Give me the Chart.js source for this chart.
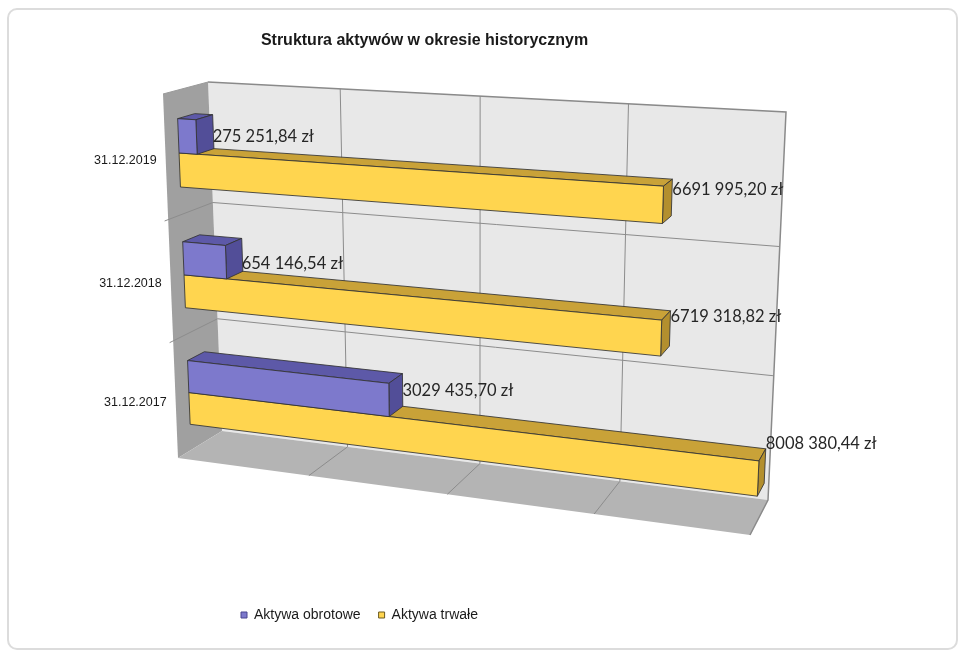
<!DOCTYPE html>
<html>
<head>
<meta charset="utf-8">
<script src="https://cdn.jsdelivr.net/npm/chart.js@4.4.1/dist/chart.umd.min.js"></script>
<style>
  html, body { margin: 0; padding: 0; background: #ffffff; }
  #wrap { position: relative; width: 965px; height: 658px; }
  #frame { position: absolute; left: 7px; top: 8px; width: 951px; height: 642px;
           border: 2px solid #dcdcdc; border-radius: 10px; box-sizing: border-box; pointer-events: none; }
  canvas { position: absolute; left: 0; top: 0; }
</style>
</head>
<body>
<div id="wrap">
  <canvas id="chart" width="965" height="658"></canvas>
  <div id="frame"></div>
</div>
<script>
// ---- data ----
const categories = ['31.12.2019', '31.12.2018', '31.12.2017'];
const seriesNames = ['Aktywa obrotowe', 'Aktywa trwałe'];
const currentAssets = [275251.84, 654146.54, 3029435.70];
const fixedAssets = [6691995.20, 6719318.82, 8008380.44];
const axisMax = 8000000;
const axisStep = 2000000;
const chartTitle = 'Struktura aktywów w okresie historycznym';
const currency = 'zł';

// ---- styling ----
const FACE = {
  purple: { front: '#7d79cc', top: '#5d59a8', side: '#524e98' },
  yellow: { front: '#ffd54f', top: '#c9a238', side: '#b38f2e' }
};
const EDGE = 'rgba(50,50,50,0.85)';

function formatPLN(v) {
  const parts = v.toFixed(2).split('.');
  const i = parts[0];
  const head = i.slice(0, -3), tail = i.slice(-3);
  return (head ? head + ' ' : '') + tail + ',' + parts[1] + ' ' + currency;
}

// Projective map of the unit square onto a quadrilateral (corners in order
// (0,0), (1,0), (1,1), (0,1)).
function quadMap(p0, p1, p2, p3) {
  const dx1 = p1[0] - p2[0], dx2 = p3[0] - p2[0], dx3 = p0[0] - p1[0] + p2[0] - p3[0];
  const dy1 = p1[1] - p2[1], dy2 = p3[1] - p2[1], dy3 = p0[1] - p1[1] + p2[1] - p3[1];
  const den = dx1 * dy2 - dx2 * dy1;
  const g = (dx3 * dy2 - dx2 * dy3) / den;
  const h = (dx1 * dy3 - dx3 * dy1) / den;
  const a = p1[0] - p0[0] + g * p1[0], b = p3[0] - p0[0] + h * p3[0], c = p0[0];
  const d = p1[1] - p0[1] + g * p1[1], e = p3[1] - p0[1] + h * p3[1], f = p0[1];
  return (u, v) => {
    const q = g * u + h * v + 1;
    return [(a * u + b * v + c) / q, (d * u + e * v + f) / q];
  };
}

// Front and back planes of the plot box.
const FRONT = quadMap([163, 94], [768, 128], [750, 535], [178, 458]);
const BACK = quadMap([208, 82], [786, 112], [768, 500], [222, 431]);
function P(u, v, w) {
  const a = FRONT(u, v), b = BACK(u, v);
  return [a[0] + (b[0] - a[0]) * w, a[1] + (b[1] - a[1]) * w];
}

// Bars sit between these depths.
const BAR_W0 = 0.30, BAR_W1 = 0.68;
// Bar thickness inside a category band, relative to the flat layout.
const BAND_SQUEEZE = 0.66, BAND_SHIFT = 0.0;
// Vertical frame used for the value labels.
const LABEL_TOP = 100, LABEL_BOTTOM = 481;

function poly(ctx, pts, fill, stroke, lw) {
  ctx.beginPath();
  ctx.moveTo(pts[0][0], pts[0][1]);
  for (let k = 1; k < pts.length; k++) ctx.lineTo(pts[k][0], pts[k][1]);
  ctx.closePath();
  if (fill) { ctx.fillStyle = fill; ctx.fill(); }
  if (stroke) { ctx.strokeStyle = stroke; ctx.lineWidth = lw || 1; ctx.stroke(); }
}
function line(ctx, a, b, color, lw) {
  ctx.beginPath();
  ctx.moveTo(a[0], a[1]);
  ctx.lineTo(b[0], b[1]);
  ctx.strokeStyle = color;
  ctx.lineWidth = lw || 1;
  ctx.stroke();
}

const boxScene = {
  id: 'boxScene',
  beforeDatasetsDraw(chart) {
    const ctx = chart.ctx;
    const area = chart.chartArea;
    const xs = chart.scales.x, ys = chart.scales.y;
    const U = px => (px - area.left) / (area.right - area.left);
    const V = py => (py - area.top) / (area.bottom - area.top);
    const nCat = categories.length;

    ctx.save();
    ctx.lineJoin = 'round';

    // walls and floor
    poly(ctx, [P(0, 0, 1), P(1, 0, 1), P(1, 1, 1), P(0, 1, 1)], '#e8e8e8');
    poly(ctx, [P(0, 0, 0), P(0, 0, 1), P(0, 1, 1), P(0, 1, 0)], '#a0a0a0');
    poly(ctx, [P(0, 1, 0), P(0, 1, 1), P(1, 1, 1), P(1, 1, 0)], '#b4b4b4');

    // value gridlines (back wall + floor)
    xs.ticks.forEach(t => {
      if (t.value <= 0 || t.value >= axisMax) return;
      const u = U(xs.getPixelForValue(t.value));
      line(ctx, P(u, 0, 1), P(u, 1, 1), '#8c8c8c', 1);
      line(ctx, P(u, 1, 1), P(u, 1, 0), '#8c8c8c', 1);
    });
    // category boundaries (back wall + side wall with tick marks)
    for (let i = 1; i < nCat; i++) {
      const py = (ys.getPixelForValue(i - 1) + ys.getPixelForValue(i)) / 2;
      const v = V(py);
      line(ctx, P(0, v, 1), P(1, v, 1), '#8c8c8c', 1);
      line(ctx, P(0, v, -0.08), P(0, v, 1), '#8c8c8c', 1);
    }
    // outline of the back wall and floor edge
    ctx.lineJoin = 'miter';
    ctx.beginPath();
    const c1 = P(0, 0, 1), c2 = P(1, 0, 1), c3 = P(1, 1, 1), c4 = P(1, 1, 0);
    ctx.moveTo(c1[0], c1[1]); ctx.lineTo(c2[0], c2[1]); ctx.lineTo(c3[0], c3[1]); ctx.lineTo(c4[0], c4[1]);
    ctx.strokeStyle = '#8a8a8a'; ctx.lineWidth = 1.5; ctx.stroke();
    line(ctx, P(0, 0, 0), P(0, 0, 1), '#9a9a9a', 1);

    // bars: per category, lower series first so the upper bar covers its top face
    const metas = [chart.getDatasetMeta(0), chart.getDatasetMeta(1)];
    const palettes = [FACE.purple, FACE.yellow];
    const labels = [];
    for (let i = 0; i < nCat; i++) {
      const bandC = (i + 0.5) / nCat;
      for (let d = metas.length - 1; d >= 0; d--) {
        const el = metas[d].data[i];
        const u0 = U(el.base), u1 = U(el.x);
        const vt2 = V(el.y - el.height / 2), vb2 = V(el.y + el.height / 2);
        const vt = bandC + (vt2 - bandC) * BAND_SQUEEZE + BAND_SHIFT / nCat;
        const vb = bandC + (vb2 - bandC) * BAND_SQUEEZE + BAND_SHIFT / nCat;
        const F = (u, v) => P(u, v, BAR_W0), B = (u, v) => P(u, v, BAR_W1);
        const pal = palettes[d];
        poly(ctx, [F(u0, vt), F(u1, vt), B(u1, vt), B(u0, vt)], pal.top, EDGE, 1);
        poly(ctx, [F(u1, vt), B(u1, vt), B(u1, vb), F(u1, vb)], pal.side, EDGE, 1);
        poly(ctx, [F(u0, vt), F(u1, vt), F(u1, vb), F(u0, vb)], pal.front, EDGE, 1);
        const endX = B(u1, vt)[0];
        const ly = LABEL_TOP + V(el.y) * (LABEL_BOTTOM - LABEL_TOP);
        labels.push({ x: endX, y: ly, text: formatPLN(chart.data.datasets[d].data[i]) });
      }
    }

    // category labels along the side wall
    ctx.font = '12.5px "Liberation Sans", Arial, sans-serif';
    ctx.fillStyle = '#1a1a1a';
    ctx.textAlign = 'right';
    ctx.textBaseline = 'middle';
    for (let i = 0; i < nCat; i++) {
      const v = V(ys.getPixelForValue(i));
      const p = P(0, v, 0);
      ctx.fillText(categories[i], p[0] - 9, p[1] + 3);
    }

    // value labels
    ctx.font = '16.5px Lato, "Open Sans", sans-serif';
    ctx.fillStyle = '#262626';
    ctx.textAlign = 'left';
    labels.forEach(l => ctx.fillText(l.text, l.x, l.y));

    ctx.restore();
    return false;
  }
};

new Chart(document.getElementById('chart'), {
  type: 'bar',
  data: {
    labels: categories,
    datasets: [
      { label: seriesNames[0], data: currentAssets, backgroundColor: FACE.purple.front,
        borderColor: '#4b4790', borderWidth: 1 },
      { label: seriesNames[1], data: fixedAssets, backgroundColor: FACE.yellow.front,
        borderColor: '#6b5a20', borderWidth: 1 }
    ]
  },
  options: {
    indexAxis: 'y',
    responsive: false,
    animation: false,
    devicePixelRatio: 1,
    categoryPercentage: 0.835,
    barPercentage: 1.0,
    layout: { padding: { left: 223, right: 339, top: 0, bottom: 26 } },
    scales: {
      x: { min: 0, max: axisMax, ticks: { stepSize: axisStep, display: false },
           grid: { display: false }, border: { display: false } },
      y: { ticks: { display: false }, grid: { display: false }, border: { display: false } }
    },
    plugins: {
      title: {
        display: true, text: chartTitle, color: '#1a1a1a',
        font: { family: '"Liberation Sans", Arial, sans-serif', size: 16, weight: 'bold' },
        padding: { top: 31, bottom: 20 }
      },
      legend: {
        position: 'bottom', align: 'start',
        labels: { boxWidth: 6, boxHeight: 6, padding: 18, color: '#1a1a1a',
                  font: { family: '"Liberation Sans", Arial, sans-serif', size: 14 } }
      },
      tooltip: { enabled: false }
    }
  },
  plugins: [boxScene]
});
</script>
</body>
</html>
